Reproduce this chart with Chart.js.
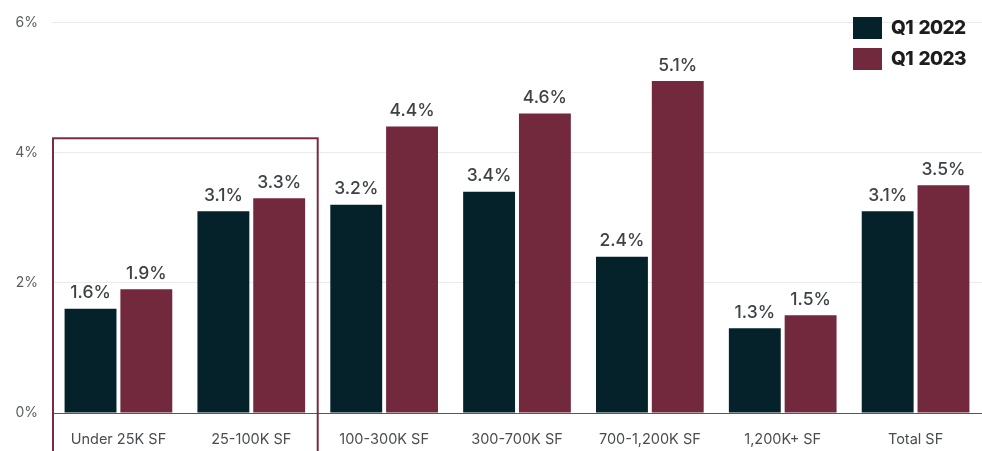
<!DOCTYPE html>
<html>
<head>
<meta charset="utf-8">
<script src="https://cdn.jsdelivr.net/npm/chart.js@4"></script>
<style>
  html, body { margin: 0; padding: 0; background: #fff; }
  #wrap { position: relative; width: 982px; height: 451px; }
  .legend { position: absolute; right: 16px; top: 12px; font-family: Inter, "Liberation Sans", sans-serif; font-weight: 800; font-size: 19px; color: #1d1d1f; letter-spacing: -0.6px; word-spacing: 2px; }
  .legend div { display: flex; align-items: center; height: 31px; white-space: pre; }
  .legend span { display: inline-block; width: 29px; height: 22px; margin-right: 9px; }
</style>
</head>
<body>
<div id="wrap">
  <canvas id="vacancyChart" width="982" height="451"></canvas>
  <div class="legend" id="legend"></div>
</div>
<script>
const categories = ['Under 25K SF', '25-100K SF', '100-300K SF', '300-700K SF', '700-1,200K SF', '1,200K+ SF', 'Total SF'];
const q1_2022 = [1.6, 3.1, 3.2, 3.4, 2.4, 1.3, 3.1];
const q1_2023 = [1.9, 3.3, 4.4, 4.6, 5.1, 1.5, 3.5];
const yTicks = [0, 2, 4, 6];

const darkColor = '#05222a';
const maroonColor = '#72293d';

// value labels above each bar
const barLabels = {
    id: 'barLabels',
    afterDatasetsDraw(chart) {
        const ctx = chart.ctx;
        ctx.save();
        ctx.font = '500 17.5px Inter, sans-serif';
        ctx.fillStyle = '#3d4247';
        ctx.textAlign = 'center';
        ctx.textBaseline = 'bottom';
        chart.data.datasets.forEach((ds, i) => {
            chart.getDatasetMeta(i).data.forEach((bar, j) => {
                ctx.fillText(ds.data[j].toFixed(1) + '%', bar.x, bar.y - 7);
            });
        });
        ctx.restore();
    }
};

// outline round the two smallest size classes
const highlightBox = {
    id: 'highlightBox',
    afterDraw(chart) {
        const x = chart.scales.x, y = chart.scales.y;
        const left = x.left + 1;
        const right = (x.getPixelForValue(1) + x.getPixelForValue(2)) / 2;
        const top = y.getPixelForValue(4.22);
        const ctx = chart.ctx;
        ctx.save();
        ctx.strokeStyle = '#7a2b42';
        ctx.lineWidth = 2;
        ctx.strokeRect(left, top, right - left, chart.height - top + 5);
        ctx.restore();
    }
};

new Chart(document.getElementById('vacancyChart'), {
    type: 'bar',
    data: {
        labels: categories,
        datasets: [
            { label: 'Q1 2022', data: q1_2022, backgroundColor: darkColor },
            { label: 'Q1 2023', data: q1_2023, backgroundColor: maroonColor }
        ]
    },
    options: {
        responsive: false,
        animation: false,
        events: [],
        layout: { padding: { top: 12, right: 0, left: 0, bottom: 0 } },
        datasets: { bar: { categoryPercentage: 0.84, barPercentage: 0.93 } },
        plugins: { legend: { display: false }, tooltip: { enabled: false } },
        scales: {
            x: {
                grid: { display: false },
                border: { color: '#55595c', width: 1 },
                ticks: { color: '#4a4d50', font: { family: 'Inter', size: 14.5 }, padding: 10 },
                afterFit(scale) { scale.height = 38; }
            },
            y: {
                min: 0,
                max: 6,
                afterBuildTicks(scale) { scale.ticks = yTicks.map(v => ({ value: v })); },
                grid: { color: '#ebebeb', drawTicks: false },
                border: { display: false },
                ticks: { color: '#5a5d60', font: { family: 'Inter', size: 14 }, padding: 14, callback: v => v + '%' },
                afterFit(scale) { scale.width = 52; }
            }
        }
    },
    plugins: [barLabels, highlightBox]
});

document.getElementById('legend').innerHTML = [['Q1 2022', darkColor], ['Q1 2023', maroonColor]]
    .map(([t, c]) => `<div><span style="background:${c}"></span>${t}</div>`).join('');
</script>
</body>
</html>
